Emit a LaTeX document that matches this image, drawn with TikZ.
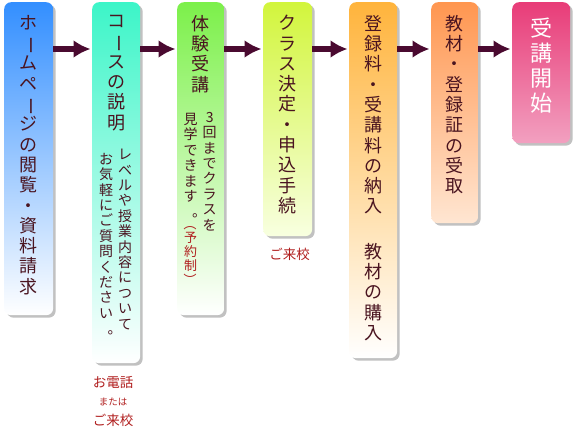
\documentclass[tikz,border=0pt]{standalone}
\usepackage{fontspec}
\usepackage{graphicx}
\usepackage{xcolor}
\usepackage{tikz}
\usetikzlibrary{positioning,arrows.meta,shadows}
\newfontfamily\jp{Noto Sans CJK JP}
\definecolor{ink}{HTML}{4A1420}
\definecolor{arrowc}{HTML}{4A0A30}
\definecolor{callc}{HTML}{B01E1E}
\newcommand{\chouon}{\rotatebox[origin=c]{-90}{ー}}
\newcommand{\kuten}{\rotatebox[origin=c]{180}{。}}
\newcommand{\kakkoL}{\rotatebox[origin=c]{-90}{（}}
\newcommand{\kakkoR}{\rotatebox[origin=c]{-90}{）}}

\begin{document}
\begin{tikzpicture}[
  x=1pt, y=-1pt,
  stepbox/.style={rounded corners=7pt, anchor=north west, inner sep=0pt, minimum width=48pt,
    drop shadow={shadow xshift=2.5pt, shadow yshift=-2.5pt, opacity=0.35, fill=black!70}},
  title/.style={font=\jp\fontsize{18}{20.3}\selectfont, text=ink, align=center, inner sep=0pt},
  note/.style={font=\jp\fontsize{14}{15.4}\selectfont, text=ink, align=center, inner sep=0pt},
  callout/.style={font=\jp\fontsize{13.5}{15}\selectfont, text=callc, inner sep=0pt},
  callsmall/.style={font=\jp\fontsize{9.5}{10}\selectfont, text=callc, inner sep=0pt},
  link/.style={-{Latex[length=17pt,width=18pt]}, line width=6pt, draw=arrowc, shorten >=1.5pt}
]
\useasboundingbox (0,0) rectangle (580,434);

% Steps
\node[stepbox, minimum width=49pt, minimum height=313pt, top color=blue!55!cyan!80!white, bottom color=white] (b1) at (4,2) {};
\node[stepbox, minimum height=361pt, top color={rgb,255:red,60;green,245;blue,200}, bottom color=white] (b2) at (92,2) {};
\node[stepbox, minimum width=47pt, minimum height=313pt, top color={rgb,255:red,124;green,240;blue,74}, bottom color=white] (b3) at (177,2) {};
\node[stepbox, minimum width=49pt, minimum height=234pt, top color={rgb,255:red,210;green,245;blue,60}, bottom color={rgb,255:red,248;green,255;blue,224}] (b4) at (263,2) {};
\node[stepbox, minimum height=356pt, top color={rgb,255:red,255;green,180;blue,60}, bottom color=white] (b5) at (349,2) {};
\node[stepbox, minimum width=47pt, minimum height=221pt, top color={rgb,255:red,255;green,150;blue,80}, bottom color={rgb,255:red,255;green,230;blue,210}] (b6) at (431,2) {};
\node[stepbox, minimum width=58pt, minimum height=141pt, top color={rgb,255:red,232;green,60;blue,120}, bottom color={rgb,255:red,242;green,160;blue,192}] (b7) at (512,2) {};

% Titles
\node[title, below=13pt of b1.north] (t1) {ホ\\\chouon\\ム\\ペ\\\chouon\\ジ\\の\\閲\\覧\\・\\資\\料\\請\\求};
\node[title, below=13pt of b2.north] (t2) {コ\\\chouon\\ス\\の\\説\\明};
\node[title, below=13pt of b3.north] (t3) {体\\験\\受\\講};
\node[title, below=13pt of b4.north] (t4) {ク\\ラ\\ス\\決\\定\\・\\申\\込\\手\\続};
\node[title, below=13pt of b5.north] (t5) {登\\録\\料\\・\\受\\講\\料\\の\\納\\入\\[25pt]教\\材\\の\\購\\入};
\node[title, below=13pt of b6.north] (t6) {教\\材\\・\\登\\録\\証\\の\\受\\取};
\node[title, font=\jp\fontsize{22}{25}\selectfont, text=white, below=16pt of b7.north] (t7) {受\\講\\開\\始};

% Notes
\node[note, anchor=north] (n2r) at ([xshift=9pt, yshift=-147pt]b2.north) {レ\\ベ\\ル\\や\\授\\業\\内\\容\\に\\つ\\い\\て};
\node[note, anchor=north] (n2l) at ([xshift=-10pt, yshift=-151pt]b2.north) {お\\気\\軽\\に\\ご\\質\\問\\く\\だ\\さ\\い\\\kuten};
\node[note, anchor=north] (n3r) at ([xshift=9pt, yshift=-110pt]b3.north) {3\\回\\ま\\で\\ク\\ラ\\ス\\を};
\node[note, anchor=north] (n3l) at ([xshift=-10pt, yshift=-111pt]b3.north) {見\\学\\で\\き\\ま\\す\\\kuten};
\node[note, font=\jp\fontsize{13}{14}\selectfont, text=callc, below=-1pt of n3l] (n3c) {\kakkoL\\予\\約\\制\\\kakkoR};

% Contact
\node[callout, below=13pt of b2, xshift=-3pt] (c2a) {お電話};
\node[callsmall, below=9pt of c2a] (c2b) {または};
\node[callout, below=8pt of c2b] (c2c) {ご来校};
\node[callout, below=12pt of b4, xshift=2pt] (c4) {ご来校};

% Arrows
\draw[link] ([yshift=-47pt]b1.north east) -- ([yshift=-47pt]b2.north west);
\draw[link] ([yshift=-47pt]b2.north east) -- ([yshift=-47pt]b3.north west);
\draw[link] ([yshift=-47pt]b3.north east) -- ([yshift=-47pt]b4.north west);
\draw[link] ([yshift=-47pt]b4.north east) -- ([yshift=-47pt]b5.north west);
\draw[link] ([yshift=-47pt]b5.north east) -- ([yshift=-47pt]b6.north west);
\draw[link] ([yshift=-47pt]b6.north east) -- ([yshift=-47pt]b7.north west);
\end{tikzpicture}
\end{document}
